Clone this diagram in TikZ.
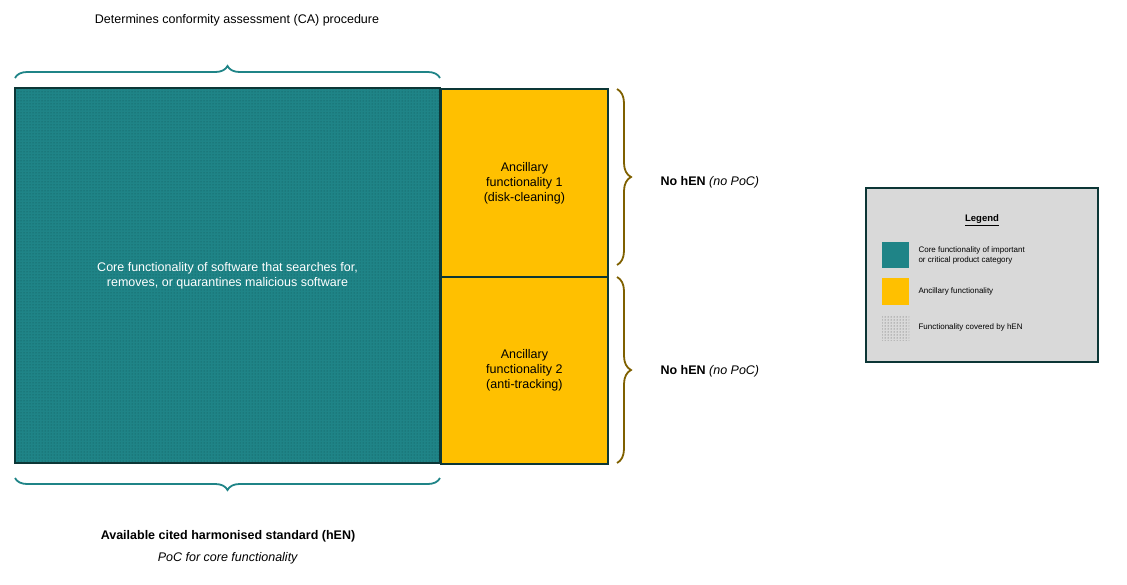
\documentclass[tikz,border=0pt]{standalone}
\usepackage{fontspec}
\setmainfont{Liberation Sans}
\usetikzlibrary{patterns,decorations.pathreplacing}
\definecolor{teal1}{HTML}{1F8487}
\definecolor{tealdark}{HTML}{0F5557}
\definecolor{border}{HTML}{0C3636}
\definecolor{ylw}{HTML}{FFC000}
\definecolor{brn}{HTML}{7F6000}
\definecolor{lg}{HTML}{D9D9D9}
\begin{document}
\begin{tikzpicture}[x=1pt,y=-1pt,
  box/.style={draw=border,line width=1.8pt},
  txt/.style={font=\fontsize{12.5}{15}\selectfont,align=center},
  tbr/.style={draw=teal1,line width=1.8pt,decorate,decoration={brace,amplitude=12pt}},
  bbr/.style={draw=brn,line width=1.8pt,decorate,decoration={brace,amplitude=14pt}},
  leg/.style={font=\fontsize{8}{10}\selectfont,align=left,anchor=west}]
\useasboundingbox (0,0) rectangle (1127,584);
\fill[teal1] (15,88) rectangle (440,463);
\fill[pattern=dots,pattern color=tealdark] (15,88) rectangle (440,463);
\draw[box] (15,88) rectangle (440,463);
\node[box,fill=ylw,minimum width=167pt,minimum height=188pt,anchor=north west,inner sep=0pt] (a1) at (440,88) {};
\node[box,fill=ylw,minimum width=167pt,minimum height=187pt,anchor=north west,inner sep=0pt] (a2) at (440,276) {};
\node[txt,text=white] (core) at (227.5,276) {Core functionality of software that searches for,\\removes, or quarantines malicious software};
\node[txt] at (a1) {Ancillary\\functionality 1\\(disk-cleaning)};
\node[txt] at (a2) {Ancillary\\functionality 2\\(anti-tracking)};
\draw[tbr] (15,78) -- (440,78);
\draw[tbr] (440,478) -- (15,478);
\draw[bbr] (617,89) -- (617,265);
\draw[bbr] (617,277) -- (617,463);
\node[txt] at (237,20) {Determines conformity assessment (CA) procedure};
\node[txt] at (228,536) {\textbf{Available cited harmonised standard (hEN)}};
\node[txt] at (228,558) {\textit{PoC for core functionality}};
\node[txt,anchor=west] at (657,182) {\textbf{No hEN} \textit{(no PoC)}};
\node[txt,anchor=west] at (657,371) {\textbf{No hEN} \textit{(no PoC)}};
\draw[fill=lg,draw=border,line width=1.8pt] (866,188) rectangle (1098,362);
\node[font=\fontsize{9.5}{11}\selectfont\bfseries] at (982,220) {\underline{Legend}};
\fill[teal1] (882,242) rectangle (909,268);
\fill[ylw] (882,278) rectangle (909,305);
\fill[pattern=dots,pattern color=black!70] (882,315) rectangle (909,340);
\node[leg] at (915,255) {Core functionality of important\\or critical product category};
\node[leg] at (915,291) {Ancillary functionality};
\node[leg] at (915,327) {Functionality covered by hEN};
\end{tikzpicture}
\end{document}
